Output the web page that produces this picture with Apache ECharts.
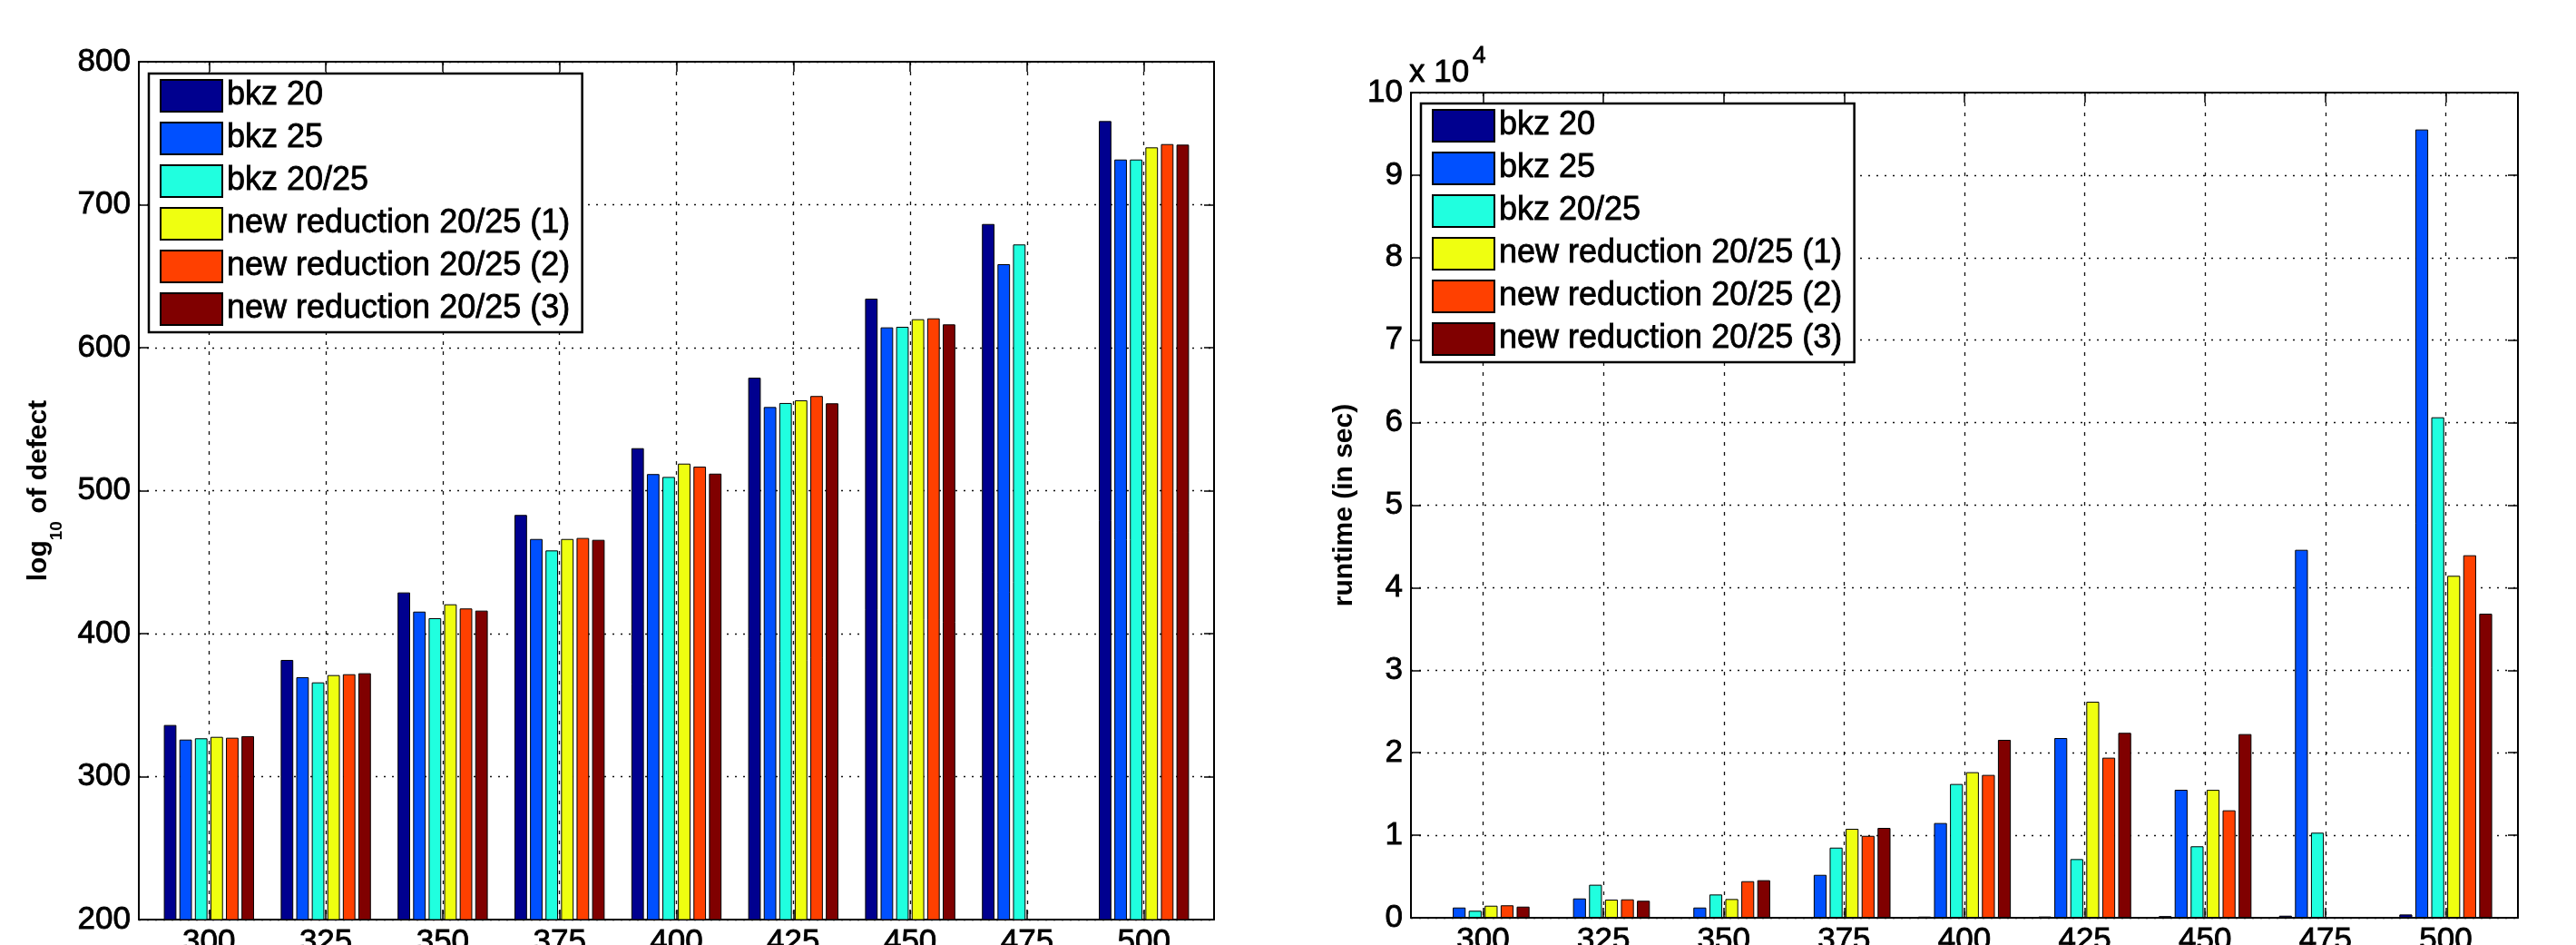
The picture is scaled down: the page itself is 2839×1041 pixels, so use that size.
<!DOCTYPE html>
<html>
<head>
<meta charset="utf-8">
<script src="https://cdn.jsdelivr.net/npm/echarts@6/dist/echarts.min.js"></script>
<style>
html,body{margin:0;padding:0;background:#fff;}
#chart{width:2839px;height:1041px;}
</style>
</head>
<body>
<div id="chart"></div>
<script>
// ---- data ----
const categories = [300, 325, 350, 375, 400, 425, 450, 475, 500];
const seriesNames = ['bkz 20', 'bkz 25', 'bkz 20/25', 'new reduction 20/25 (1)', 'new reduction 20/25 (2)', 'new reduction 20/25 (3)'];
const seriesColors = ['#00008F', '#0050FF', '#20FFDF', '#EFFF10', '#FF4000', '#800000'];

// left panel: log10 of defect
const defectBkz20   = [336.1, 381.6, 428.8, 483.0, 529.7, 579.0, 634.3, 686.5, 758.5];
const defectBkz25   = [325.9, 369.5, 415.4, 466.2, 511.6, 558.5, 614.2, 658.4, 731.6];
const defectBkz2025 = [326.8, 365.9, 410.8, 458.2, 509.6, 561.3, 614.6, 672.2, 731.6];
const defectNew1    = [327.8, 371.0, 420.5, 466.2, 518.9, 563.2, 619.9, null, 740.1];
const defectNew2    = [327.2, 371.6, 417.6, 466.9, 516.8, 566.2, 620.5, null, 742.4];
const defectNew3    = [328.3, 372.3, 416.1, 465.6, 511.9, 561.1, 616.3, null, 742.0];

// right panel: runtime (in sec)
const runtimeBkz20   = [10, 20, 30, 50, 140, 150, 200, 250, 400];
const runtimeBkz25   = [1240, 2340, 1240, 5200, 11480, 21780, 15510, 44590, 95530];
const runtimeBkz2025 = [850, 4000, 2820, 8500, 16210, 7110, 8660, 10310, 60650];
const runtimeNew1    = [1460, 2200, 2270, 10780, 17640, 26180, 15500, null, 41440];
const runtimeNew2    = [1510, 2230, 4430, 9930, 17310, 19400, 13020, null, 43930];
const runtimeNew3    = [1350, 2060, 4550, 10890, 21560, 22410, 22260, null, 36850];

const defectSeries = [defectBkz20, defectBkz25, defectBkz2025, defectNew1, defectNew2, defectNew3];
const runtimeSeries = [runtimeBkz20, runtimeBkz25, runtimeBkz2025, runtimeNew1, runtimeNew2, runtimeNew3];

// ---- style ----
const FONT = "'Liberation Sans', Arial, Helvetica, sans-serif";
const BLACK = '#000';
const TEXT_THICK = { textBorderColor: BLACK, textBorderWidth: 0.8 };

function xAxes(gridIndex) {
  const common = {
    gridIndex: gridIndex, type: 'value', min: 285, max: 515,
    axisLine: { show: true, onZero: false, lineStyle: { color: BLACK, width: 2 } },
    axisTick: { show: true, inside: true, length: 11, customValues: categories, lineStyle: { color: BLACK, width: 1.5 } }
  };
  return [
    Object.assign({}, common, {
      position: 'bottom',
      axisLabel: Object.assign({ show: true, customValues: categories, fontSize: 35, fontFamily: FONT, color: BLACK, margin: 8 }, TEXT_THICK),
      splitLine: { show: true, lineStyle: { color: '#111', width: 1.3, type: [4, 7] } }
    }),
    Object.assign({}, common, {
      position: 'top',
      axisLabel: { show: false },
      splitLine: { show: false }
    })
  ];
}

function yAxes(gridIndex, min, max, interval, formatter, name, nameGap, nameRich) {
  const common = {
    gridIndex: gridIndex, type: 'value', min: min, max: max, interval: interval,
    axisLine: { show: true, onZero: false, lineStyle: { color: BLACK, width: 2 } },
    axisTick: { show: true, inside: true, length: 11, lineStyle: { color: BLACK, width: 1.5 } }
  };
  return [
    Object.assign({}, common, {
      position: 'left',
      name: name, nameLocation: 'middle', nameRotate: 90, nameGap: nameGap,
      nameTextStyle: { rich: nameRich },
      axisLabel: Object.assign({ show: true, fontSize: 35, fontFamily: FONT, color: BLACK, margin: 9, formatter: formatter }, TEXT_THICK),
      splitLine: { show: true, lineStyle: { color: '#111', width: 1.3, type: [2, 7] } }
    }),
    Object.assign({}, common, {
      position: 'right',
      axisLabel: { show: false },
      splitLine: { show: false }
    })
  ];
}

const series = [];
function addPanel(valuesList, xIndex, yIndex, barWidth) {
  valuesList.forEach(function (vals, i) {
    series.push({
      type: 'bar',
      name: seriesNames[i],
      xAxisIndex: xIndex,
      yAxisIndex: yIndex,
      barWidth: barWidth,
      barGap: '24%',
      itemStyle: { color: seriesColors[i], borderColor: BLACK, borderWidth: 1 },
      data: categories.map(function (c, k) { return [c, vals[k] == null ? '-' : vals[k]]; })
    });
  });
}
addPanel(defectSeries, 0, 0, 13.8);
addPanel(runtimeSeries, 2, 2, 14.2);

function legend(left, top) {
  return {
    data: seriesNames, orient: 'vertical', left: left, top: top,
    padding: [6, 13, 7, 12], itemWidth: 68, itemHeight: 35, itemGap: 10,
    borderColor: BLACK, borderWidth: 2.5, backgroundColor: '#fff', borderRadius: 0,
    icon: 'rect', selectedMode: false,
    itemStyle: { borderColor: BLACK, borderWidth: 2 },
    textStyle: Object.assign({ fontSize: 36, fontFamily: FONT, color: BLACK, lineHeight: 35 }, TEXT_THICK)
  };
}

const option = {
  animation: false,
  backgroundColor: '#fff',
  title: [
    {
      text: 'x 10', left: 1553, top: 63, padding: 0,
      textStyle: Object.assign({ fontSize: 35, fontWeight: 'normal', fontFamily: FONT, color: BLACK, lineHeight: 35 }, TEXT_THICK)
    },
    {
      text: '4', left: 1623, top: 49, padding: 0,
      textStyle: Object.assign({ fontSize: 26, fontWeight: 'normal', fontFamily: FONT, color: BLACK, lineHeight: 26 }, TEXT_THICK)
    }
  ],
  legend: [legend(164, 81), legend(1566, 114)],
  grid: [
    { left: 153, top: 68, width: 1185, height: 945, outerBoundsMode: 'none', containLabel: false },
    { left: 1555, top: 102, width: 1220, height: 909, outerBoundsMode: 'none', containLabel: false }
  ],
  xAxis: xAxes(0).concat(xAxes(1)),
  yAxis: yAxes(0, 200, 800, 100, null, '{a|log}{s|10}{a| of defect}', 55, {
      a: { fontSize: 30, fontWeight: 'bold', fontFamily: FONT, color: BLACK, lineHeight: 30, verticalAlign: 'top' },
      s: { fontSize: 19, fontWeight: 'bold', fontFamily: FONT, color: BLACK, lineHeight: 70, verticalAlign: 'middle' }
    }).concat(yAxes(1, 0, 100000, 10000, function (v) { return String(v / 10000); }, '{a|runtime (in sec)}', 58, {
      a: { fontSize: 30, fontWeight: 'bold', fontFamily: FONT, color: BLACK, lineHeight: 30 }
    })),
  series: series
};

const chart = echarts.init(document.getElementById('chart'), null, { renderer: 'canvas' });
chart.setOption(option);
</script>
</body>
</html>
